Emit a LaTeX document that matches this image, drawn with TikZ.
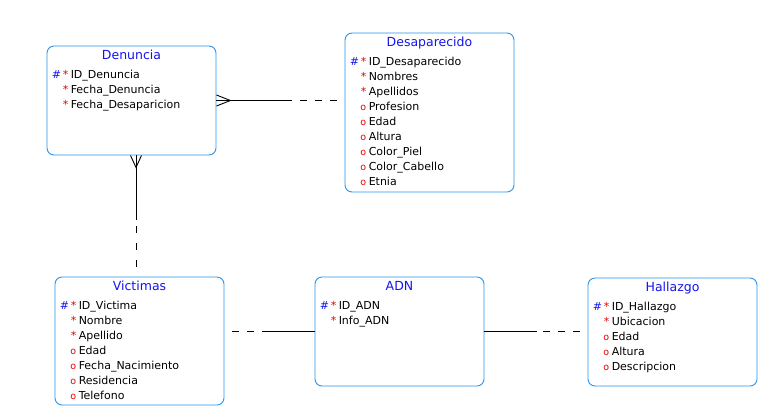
\documentclass[tikz,border=0pt]{standalone}
\usepackage{fontspec}
\setmainfont{DejaVu Sans}
\usetikzlibrary{calc}
\definecolor{boxblue}{RGB}{40,150,240}
\definecolor{titleblue}{RGB}{20,20,240}
\definecolor{markred}{RGB}{235,0,0}
\tikzset{
  entity/.style={draw=boxblue, line width=0.9pt, rounded corners=7pt, fill=white, minimum width=169pt, inner sep=0pt},
  etitle/.style={anchor=base, inner sep=0pt, text=titleblue, font=\fontsize{12.5}{14}\selectfont},
  attr/.style={anchor=base west, inner sep=0pt, font=\fontsize{11}{13}\selectfont},
  symb/.style={attr, text=markred},
  osymb/.style={symb, font=\fontsize{9.5}{11}\selectfont},
  pkmark/.style={attr, text=titleblue},
  rel/.style={line width=0.9pt, black},
  reldash/.style={rel, dash pattern=on 7pt off 8pt, dash phase=7pt},
}
\newcommand\arow[3]{%
  \node[attr] (#1-t#2) at ($(#1.north west)+(24,{33+15*#2})$) {#3};
  \node[symb] (#1-m#2) at ($(#1.north west)+(16,{33+15*#2})$) {*};
}
\newcommand\orow[3]{%
  \node[attr] (#1-t#2) at ($(#1.north west)+(24,{33+15*#2})$) {#3};
  \node[osymb] (#1-m#2) at ($(#1.north west)+(15.5,{33+15*#2})$) {o};
}
\newcommand\pkrow[3]{%
  \arow{#1}{#2}{#3}
  \node[pkmark] (#1-k#2) at ($(#1.north west)+(5,{33+15*#2})$) {\#};
}
\begin{document}
\begin{tikzpicture}[x=1pt,y=-1pt]
\useasboundingbox[fill=white] (0,0) rectangle (768,416);
% entities
\node[entity, minimum height=109pt] (den) at (131.5,100.5) {};
\node[entity, minimum height=159pt] (des) at (429.5,112.5) {};
\node[entity, minimum height=128pt] (vic) at (139.5,341) {};
\node[entity, minimum height=109pt] (adn) at (399.5,331.5) {};
\node[entity, minimum height=108pt] (hal) at (672.5,332) {};
% titles
\node[etitle] (den-h) at ($(den.north)+(0,14)$) {Denuncia};
\node[etitle] (des-h) at ($(des.north)+(0,14)$) {Desaparecido};
\node[etitle] (vic-h) at ($(vic.north)+(0,14)$) {Victimas};
\node[etitle] (adn-h) at ($(adn.north)+(0,14)$) {ADN};
\node[etitle] (hal-h) at ($(hal.north)+(0,14)$) {Hallazgo};
% attributes
\pkrow{den}{0}{ID\_Denuncia}
\arow{den}{1}{Fecha\_Denuncia}
\arow{den}{2}{Fecha\_Desaparicion}
\pkrow{des}{0}{ID\_Desaparecido}
\arow{des}{1}{Nombres}
\arow{des}{2}{Apellidos}
\orow{des}{3}{Profesion}
\orow{des}{4}{Edad}
\orow{des}{5}{Altura}
\orow{des}{6}{Color\_Piel}
\orow{des}{7}{Color\_Cabello}
\orow{des}{8}{Etnia}
\pkrow{vic}{0}{ID\_Victima}
\arow{vic}{1}{Nombre}
\arow{vic}{2}{Apellido}
\orow{vic}{3}{Edad}
\orow{vic}{4}{Fecha\_Nacimiento}
\orow{vic}{5}{Residencia}
\orow{vic}{6}{Telefono}
\pkrow{adn}{0}{ID\_ADN}
\arow{adn}{1}{Info\_ADN}
\pkrow{hal}{0}{ID\_Hallazgo}
\arow{hal}{1}{Ubicacion}
\orow{hal}{2}{Edad}
\orow{hal}{3}{Altura}
\orow{hal}{4}{Descripcion}
% Denuncia -- Desaparecido
\coordinate (m1) at ($(den.east)+(73,0)$);
\draw[rel] (den.east) -- (m1);
\draw[reldash] (des.west |- den.east) -- (m1);
\draw[rel] ($(den.east)+(0,-5.5)$) -- ($(den.east)+(14,0)$) -- ($(den.east)+(0,5.5)$);
% Denuncia -- Victimas
\coordinate (v0) at ($(den.south)+(4.5,0)$);
\coordinate (v1) at ($(v0)+(0,65)$);
\draw[rel] (v0) -- (v1);
\draw[rel, dash pattern=on 7pt off 10pt, dash phase=7pt] (vic.north -| v0) -- (v1);
\draw[rel] ($(v0)+(-5.5,0)$) -- ($(v0)+(0,12)$) -- ($(v0)+(5.5,0)$);
% Victimas -- ADN
\coordinate (m3) at ($(adn.west)+(-49,0)$);
\draw[rel] (adn.west) -- (m3);
\draw[reldash] (vic.east |- adn.west) -- (m3);
% ADN -- Hallazgo
\coordinate (m4) at ($(adn.east)+(53,0)$);
\draw[rel] (adn.east) -- (m4);
\draw[reldash] (hal.west |- adn.east) -- (m4);
\end{tikzpicture}
\end{document}
